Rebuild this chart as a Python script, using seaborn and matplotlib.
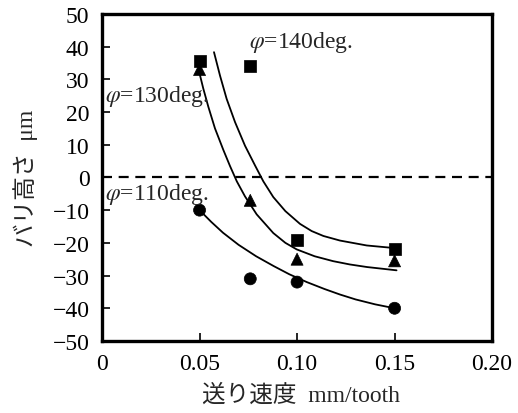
import pandas as pd
import seaborn as sns
from matplotlib import pyplot as plt

# measured burr height (um) vs feed rate (mm/tooth)
feed = [0.05, 0.076, 0.10, 0.15]
burr_110 = [-10, -31, -32, -40]
burr_130 = [33, -7, -25, -25.5]
burr_140 = [35.5, 34, -19, -22]

# fitted curves
fit_110_x = [0.050, 0.056, 0.062, 0.070, 0.079, 0.088, 0.096, 0.105, 0.114, 0.122, 0.130, 0.140, 0.150]
fit_110_y = [-10.0, -13.6, -16.9, -20.6, -24.1, -27.1, -29.6, -32.0, -34.1, -35.8, -37.3, -38.8, -40.0]

fit_130_x = [0.0495, 0.0519, 0.0545, 0.0579, 0.0622, 0.0656, 0.0691, 0.0733, 0.0793, 0.0878,
             0.0940, 0.0998, 0.109, 0.1185, 0.127, 0.1359, 0.151]
fit_130_y = [33.0, 27.2, 21.6, 15.0, 8.4, 3.5, -1.2, -5.8, -11.3, -17.0,
             -20.0, -22.0, -24.1, -25.6, -26.6, -27.4, -28.4]

fit_140_x = [0.0574, 0.0605, 0.0639, 0.0682, 0.0733, 0.0785, 0.0827, 0.0878, 0.094, 0.1015,
             0.1075, 0.1135, 0.122, 0.1357, 0.150]
fit_140_y = [38.3, 31.1, 24.0, 16.9, 9.7, 3.6, -1.2, -6.0, -10.3, -14.2,
             -16.4, -17.9, -19.3, -20.8, -21.6]

sns.set_style("ticks")
plt.rcParams["font.family"] = ["Liberation Serif", "Noto Sans CJK JP"]
plt.rcParams["mathtext.fontset"] = "stix"

fig = plt.figure(figsize=(5.18, 4.14), dpi=100)
ax = fig.add_axes([0.197, 0.174, 0.753, 0.790])

# fitted curves
for fx, fy in [(fit_110_x, fit_110_y), (fit_130_x, fit_130_y), (fit_140_x, fit_140_y)]:
    sns.lineplot(x=fx, y=fy, ax=ax, color="black", lw=1.3, sort=False, estimator=None)

ax.axhline(0, color="black", lw=1.6, ls=(0, (4.5, 3.0)))

# measured points, squares first so triangles sit on top
points = pd.DataFrame({
    "feed": feed * 3,
    "burr": burr_140 + burr_130 + burr_110,
    "angle": ["φ140"] * 4 + ["φ130"] * 4 + ["φ110"] * 4,
})
sns.scatterplot(data=points, x="feed", y="burr", style="angle",
                markers={"φ140": "s", "φ130": "^", "φ110": "o"},
                style_order=["φ140", "φ130", "φ110"],
                color="black", s=75, edgecolor="black", linewidth=0.5,
                legend=False, ax=ax, zorder=3)

ax.text(0.0755, 39.8, r"$\varphi$=140deg.", fontsize=17, va="baseline", ha="left")
ax.text(0.0015, 23.5, r"$\varphi$=130deg.", fontsize=17, va="baseline", ha="left")
ax.text(0.0015, -6.5, r"$\varphi$=110deg.", fontsize=17, va="baseline", ha="left")

ax.set_xlim(0, 0.20)
ax.set_ylim(-50, 50)
ax.set_xticks([0, 0.05, 0.10, 0.15, 0.20])
ax.set_xticklabels(["0", "0.05", "0.10", "0.15", "0.20"])
ax.set_yticks(range(-50, 51, 10))
ax.tick_params(direction="in", length=6, width=1.2, labelsize=17, colors="black",
               top=False, right=False)
ax.tick_params(axis="y", pad=9)
ax.tick_params(axis="x", pad=9)
for side in ax.spines.values():
    side.set_linewidth(2.4)
    side.set_color("black")

ax.set_xlabel("送り速度  mm/tooth", fontsize=17)
ax.set_ylabel("バリ高さ  μm", fontsize=17)
ax.xaxis.set_label_coords(0.51, -0.13)
ax.yaxis.set_label_coords(-0.165, 0.5)

fig.savefig("out.png", dpi=100)
plt.close(fig)
